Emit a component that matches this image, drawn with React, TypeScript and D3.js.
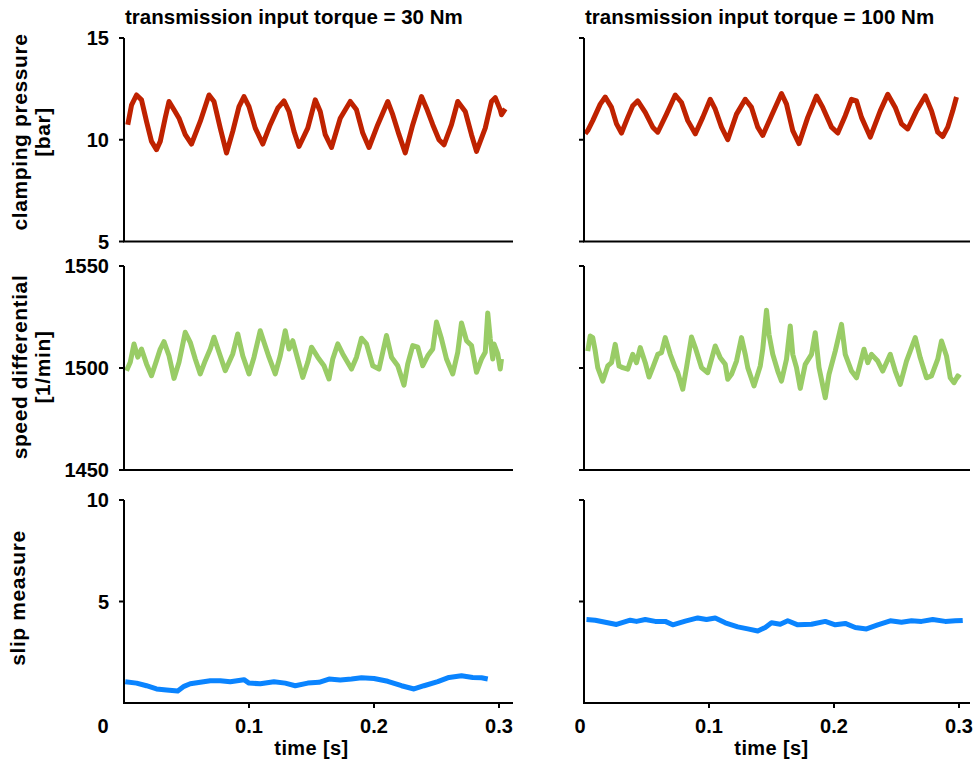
import React, { useEffect, useRef } from 'react';
import * as d3 from 'd3';

// ---- data (time in s)
const columnTitles = ['transmission input torque = 30 Nm', 'transmission input torque = 100 Nm'];
const rowLabels = [['clamping pressure', '[bar]'], ['speed differential', '[1/min]'], ['slip measure']];
const yDomains = [[5, 15], [1450, 1550], [0, 10]];
const yTicks = [[5, 10, 15], [1450, 1500, 1550], [5, 10]];
const xTicks = [0.1, 0.2, 0.3];
const xTickLabels = ['0.1', '0.2', '0.3'];

const pressure30T = [0.003, 0.006, 0.010, 0.014, 0.018, 0.022, 0.026, 0.029, 0.033, 0.036, 0.040, 0.044, 0.049, 0.054, 0.061, 0.068, 0.072, 0.077, 0.082, 0.087, 0.092, 0.096, 0.100, 0.105, 0.111, 0.117, 0.123, 0.128, 0.132, 0.136, 0.140, 0.147, 0.153, 0.157, 0.161, 0.166, 0.173, 0.181, 0.186, 0.191, 0.196, 0.203, 0.211, 0.215, 0.220, 0.225, 0.231, 0.238, 0.242, 0.247, 0.252, 0.256, 0.262, 0.267, 0.273, 0.278, 0.282, 0.289, 0.294, 0.297, 0.301, 0.302, 0.305];
const pressure30V = [10.74, 11.7, 12.2, 11.96, 10.9, 9.92, 9.51, 9.92, 11.08, 11.88, 11.47, 11.06, 10.25, 9.79, 10.9, 12.2, 11.88, 10.57, 9.35, 10.41, 11.63, 12.12, 11.63, 10.57, 9.79, 10.74, 11.55, 11.91, 11.39, 10.41, 9.67, 10.57, 11.96, 11.39, 10.25, 9.62, 11.06, 11.88, 11.47, 10.33, 9.62, 10.74, 11.88, 11.23, 10.25, 9.35, 10.74, 12.12, 11.55, 10.74, 10.0, 9.75, 10.74, 11.88, 11.39, 10.25, 9.43, 10.57, 11.88, 12.07, 11.47, 11.23, 11.52];

const pressure100T = [0.001, 0.003, 0.007, 0.013, 0.017, 0.022, 0.026, 0.030, 0.035, 0.039, 0.043, 0.049, 0.055, 0.059, 0.066, 0.073, 0.078, 0.083, 0.089, 0.095, 0.101, 0.105, 0.110, 0.115, 0.122, 0.129, 0.134, 0.139, 0.143, 0.150, 0.158, 0.162, 0.167, 0.172, 0.179, 0.186, 0.191, 0.198, 0.203, 0.209, 0.214, 0.218, 0.222, 0.229, 0.237, 0.243, 0.249, 0.254, 0.259, 0.266, 0.273, 0.278, 0.283, 0.287, 0.291, 0.295, 0.298];
const pressure100V = [10.29, 10.45, 10.94, 11.75, 12.1, 11.59, 10.78, 10.33, 11.1, 11.67, 11.91, 11.34, 10.62, 10.37, 11.26, 12.2, 11.83, 10.94, 10.29, 11.1, 11.99, 11.5, 10.62, 10.0, 11.26, 11.99, 11.59, 10.62, 10.21, 11.18, 12.27, 11.75, 10.45, 9.81, 11.1, 12.15, 11.59, 10.62, 10.33, 11.18, 11.99, 11.91, 11.1, 10.13, 11.42, 12.23, 11.59, 10.78, 10.53, 11.42, 12.15, 11.42, 10.37, 10.16, 10.62, 11.42, 12.1];

const speed30T = [0.002, 0.005, 0.008, 0.011, 0.014, 0.018, 0.022, 0.026, 0.029, 0.032, 0.036, 0.040, 0.044, 0.049, 0.053, 0.057, 0.061, 0.065, 0.069, 0.072, 0.076, 0.081, 0.087, 0.091, 0.095, 0.100, 0.104, 0.109, 0.112, 0.116, 0.121, 0.125, 0.129, 0.132, 0.135, 0.139, 0.143, 0.147, 0.150, 0.155, 0.160, 0.164, 0.167, 0.171, 0.175, 0.182, 0.186, 0.190, 0.194, 0.199, 0.204, 0.210, 0.214, 0.219, 0.224, 0.227, 0.231, 0.235, 0.239, 0.243, 0.247, 0.250, 0.254, 0.258, 0.263, 0.267, 0.270, 0.274, 0.278, 0.282, 0.286, 0.289, 0.291, 0.293, 0.295, 0.296, 0.299, 0.301, 0.302];
const speed30V = [1498.7, 1502.8, 1511.8, 1505.3, 1509.3, 1502.0, 1496.2, 1503.6, 1509.3, 1512.9, 1506.0, 1494.9, 1502.8, 1517.5, 1512.6, 1504.4, 1497.1, 1503.6, 1509.3, 1515.1, 1507.7, 1498.7, 1506.9, 1516.7, 1506.0, 1497.1, 1505.3, 1518.3, 1512.6, 1505.3, 1497.1, 1506.0, 1518.3, 1509.3, 1513.4, 1504.4, 1495.4, 1502.8, 1510.2, 1505.3, 1501.1, 1494.6, 1504.4, 1511.8, 1506.9, 1499.5, 1505.3, 1514.6, 1511.8, 1501.1, 1499.5, 1515.9, 1505.3, 1501.1, 1491.6, 1502.0, 1511.0, 1510.2, 1501.1, 1506.0, 1509.3, 1522.5, 1514.3, 1504.4, 1497.1, 1507.7, 1522.1, 1513.4, 1511.0, 1497.9, 1504.4, 1507.7, 1527.0, 1514.3, 1504.4, 1511.8, 1506.9, 1499.5, 1504.4];

const speed100T = [0.003, 0.005, 0.007, 0.009, 0.011, 0.015, 0.019, 0.022, 0.025, 0.028, 0.031, 0.035, 0.039, 0.042, 0.045, 0.049, 0.052, 0.055, 0.059, 0.062, 0.065, 0.069, 0.073, 0.075, 0.079, 0.082, 0.086, 0.089, 0.094, 0.099, 0.105, 0.109, 0.113, 0.115, 0.118, 0.122, 0.126, 0.129, 0.131, 0.136, 0.141, 0.143, 0.146, 0.148, 0.151, 0.155, 0.158, 0.162, 0.165, 0.167, 0.170, 0.173, 0.177, 0.182, 0.185, 0.188, 0.193, 0.196, 0.201, 0.206, 0.209, 0.214, 0.218, 0.224, 0.227, 0.230, 0.235, 0.239, 0.245, 0.249, 0.253, 0.258, 0.265, 0.269, 0.274, 0.278, 0.283, 0.286, 0.290, 0.293, 0.296, 0.299, 0.301];
const speed100V = [1508.3, 1515.7, 1514.9, 1508.3, 1500.2, 1493.6, 1501.0, 1502.6, 1511.6, 1501.0, 1500.2, 1499.4, 1506.7, 1502.6, 1510.0, 1502.6, 1495.6, 1500.2, 1506.7, 1507.5, 1514.9, 1506.7, 1500.2, 1497.7, 1489.6, 1500.2, 1515.2, 1510.0, 1500.2, 1497.7, 1510.8, 1505.0, 1501.8, 1494.5, 1496.9, 1503.4, 1514.9, 1506.7, 1500.2, 1491.2, 1501.0, 1509.2, 1528.3, 1516.5, 1506.7, 1498.5, 1493.6, 1504.3, 1520.6, 1506.7, 1500.2, 1490.0, 1501.8, 1506.7, 1517.3, 1500.2, 1485.4, 1496.9, 1508.3, 1521.4, 1506.7, 1498.5, 1495.2, 1509.2, 1502.6, 1506.7, 1503.4, 1498.5, 1506.7, 1498.5, 1492.0, 1503.4, 1514.9, 1505.0, 1495.2, 1496.1, 1504.3, 1513.2, 1505.9, 1495.2, 1492.8, 1496.1, 1495.2];

const slip30T = [0.001, 0.010, 0.018, 0.026, 0.034, 0.043, 0.048, 0.053, 0.061, 0.069, 0.077, 0.085, 0.096, 0.100, 0.109, 0.120, 0.129, 0.137, 0.147, 0.156, 0.164, 0.173, 0.182, 0.190, 0.200, 0.211, 0.222, 0.232, 0.240, 0.251, 0.260, 0.270, 0.279, 0.286, 0.291];
const slip30V = [1.05, 0.98, 0.85, 0.69, 0.64, 0.59, 0.82, 0.95, 1.02, 1.10, 1.10, 1.05, 1.15, 0.98, 0.95, 1.05, 0.98, 0.85, 0.98, 1.02, 1.18, 1.13, 1.18, 1.24, 1.21, 1.07, 0.85, 0.69, 0.85, 1.05, 1.26, 1.34, 1.26, 1.24, 1.18];

const slip100T = [0.002, 0.009, 0.017, 0.026, 0.037, 0.042, 0.049, 0.057, 0.065, 0.071, 0.081, 0.091, 0.098, 0.105, 0.113, 0.123, 0.131, 0.139, 0.145, 0.150, 0.157, 0.163, 0.171, 0.182, 0.193, 0.201, 0.209, 0.217, 0.226, 0.235, 0.245, 0.254, 0.262, 0.270, 0.279, 0.289, 0.297, 0.303];
const slip100V = [4.11, 4.08, 3.98, 3.87, 4.08, 4.02, 4.11, 4.02, 4.02, 3.85, 4.03, 4.19, 4.11, 4.19, 3.95, 3.75, 3.65, 3.55, 3.72, 3.95, 3.88, 4.05, 3.85, 3.88, 4.02, 3.85, 3.92, 3.72, 3.65, 3.85, 4.05, 3.98, 4.05, 4.02, 4.11, 4.02, 4.05, 4.07];

const series = [
    [[pressure30T, pressure30V], [pressure100T, pressure100V]],
    [[speed30T, speed30V], [speed100T, speed100V]],
    [[slip30T, slip30V], [slip100T, slip100V]]
];
const rowColors = ['#BF2200', '#99CC66', '#0A84FF'];

export default function App() {
    const svgRef = useRef<SVGSVGElement>(null);

    useEffect(() => {
        const svg = d3.select(svgRef.current);
        svg.selectAll('*').remove();

        const font = '"Liberation Sans", Arial, sans-serif';
        const cols = [
            { x0: 124, x1: 499, axisEnd: 513, zeroDx: -21 },
            { x0: 584, x1: 959, axisEnd: 970, zeroDx: -4 }
        ];
        const rows = [
            { bottom: 241.5, top: 38, labelY: 132 },
            { bottom: 470, top: 266, labelY: 367 },
            { bottom: 703, top: 500, labelY: 598 }
        ];

        const txt = (x, y, s, anchor = 'middle', size = 20, spacing = 0) =>
            svg.append('text')
                .attr('x', x)
                .attr('y', y)
                .attr('text-anchor', anchor)
                .style('font-family', font)
                .style('font-weight', 'bold')
                .style('font-size', `${size}px`)
                .style('letter-spacing', `${spacing}px`)
                .attr('fill', '#000')
                .text(s);

        cols.forEach((c, ci) => {
            const x = d3.scaleLinear().domain([0, 0.3]).range([c.x0, c.x1]);

            txt(c.x0 + 1, 24, columnTitles[ci], 'start', 20.5);

            rows.forEach((r, ri) => {
                const y = d3.scaleLinear().domain(yDomains[ri]).range([r.bottom, r.top]);
                const g = svg.append('g');

                // line first, axes on top
                const [ts, vs] = series[ri][ci];
                const line = d3.line<number>()
                    .x((_, i) => x(ts[i]))
                    .y(d => y(d));
                g.append('path')
                    .datum(vs)
                    .attr('fill', 'none')
                    .attr('stroke', rowColors[ri])
                    .attr('stroke-width', 5)
                    .attr('stroke-linejoin', 'round')
                    .attr('d', line);

                // y axis
                g.append('line')
                    .attr('x1', c.x0).attr('x2', c.x0)
                    .attr('y1', y.range()[1]).attr('y2', y.range()[0])
                    .attr('stroke', '#000').attr('stroke-width', 2);
                yTicks[ri].forEach(t => {
                    g.append('line')
                        .attr('x1', c.x0 - 5).attr('x2', c.x0)
                        .attr('y1', y(t)).attr('y2', y(t))
                        .attr('stroke', '#000').attr('stroke-width', 2);
                    if (ci === 0) txt(c.x0 - 15, y(t) + 7, String(t), 'end');
                });

                // x axis
                g.append('line')
                    .attr('x1', c.x0 - 1).attr('x2', c.axisEnd)
                    .attr('y1', r.bottom).attr('y2', r.bottom)
                    .attr('stroke', '#000').attr('stroke-width', 2);

                if (ri === 2) {
                    xTicks.forEach((t, i) => {
                        g.append('line')
                            .attr('x1', x(t)).attr('x2', x(t))
                            .attr('y1', r.bottom).attr('y2', r.bottom + 5)
                            .attr('stroke', '#000').attr('stroke-width', 2);
                        txt(x(t), 733, xTickLabels[i]);
                    });
                    txt(c.x0 + c.zeroDx, 733, '0');
                    txt((c.x0 + c.x1) / 2, 755, 'time [s]', 'middle', 20, 0.4);
                }

                if (ci === 0) {
                    const lines = rowLabels[ri];
                    lines.forEach((s, li) => {
                        const bx = lines.length === 1 ? 25 : 27 + li * 23;
                        txt(0, 0, s, 'middle', 21, 0.6)
                            .attr('transform', `translate(${bx},${r.labelY}) rotate(-90)`);
                    });
                }
            });
        });
    }, []);

    return (
        <svg
            ref={svgRef}
            width={978}
            height={765}
            style={{ position: 'absolute', left: 0, top: 0, background: '#fff' }}
        />
    );
}
